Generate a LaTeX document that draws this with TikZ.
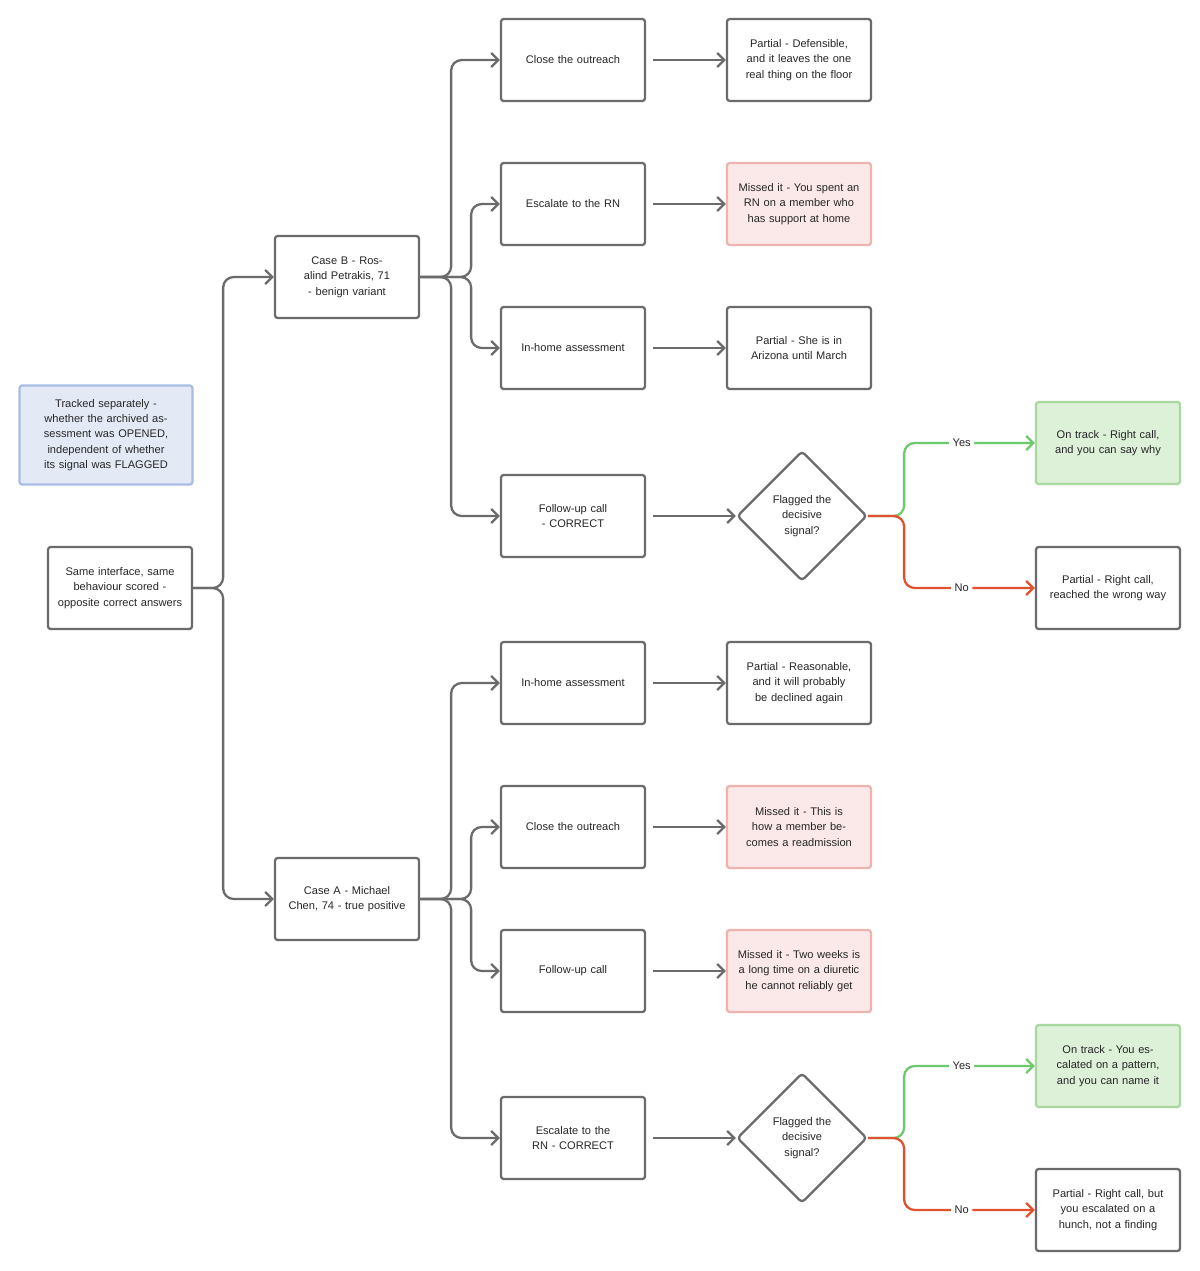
\documentclass[tikz,border=0pt]{standalone}
\usepackage{fontspec}
\setmainfont{Liberation Sans}
\usetikzlibrary{arrows.meta,shapes.geometric}
\definecolor{edgegray}{HTML}{6B6B6B}
\definecolor{notefill}{HTML}{E3EAF6}
\definecolor{noteline}{HTML}{A9BCE3}
\definecolor{missfill}{HTML}{FBE9E9}
\definecolor{missline}{HTML}{EDB3AE}
\definecolor{okfill}{HTML}{DDF0D8}
\definecolor{okline}{HTML}{A8D7A0}
\definecolor{yesgreen}{HTML}{6CC96C}
\definecolor{nored}{HTML}{E0512F}
\begin{document}
\begin{tikzpicture}[x=0.02cm,y=-0.02cm]

\tikzset{box/.style = {draw=edgegray, line width=1.3pt, rounded corners=1.5pt, minimum width=2.88cm, minimum height=1.64cm, align=center, text width=2.5cm, font=\fontsize{6.3}{8.7}\selectfont, text=black!85}}
\tikzset{miss/.style = {box, draw=missline, fill=missfill}}
\tikzset{ok/.style = {box, draw=okline, fill=okfill}}
\tikzset{dia/.style = {draw=edgegray, line width=1.3pt, diamond, rounded corners=2pt, minimum width=2.6cm, minimum height=2.6cm, inner sep=0pt, align=center, font=\fontsize{6.3}{8.7}\selectfont, text=black!85}}
\tikzset{link/.style = {draw=edgegray, line width=1.3pt, rounded corners=6pt, -{Straight Barb[length=4pt,width=8pt]}}}
\tikzset{tag/.style = {fill=white, inner sep=2pt, font=\fontsize{6.3}{8}\selectfont, text=black!85}}

\useasboundingbox (0,0) rectangle (1200,1271);

% left side
\node[box, draw=noteline, fill=notefill, minimum width=3.46cm, minimum height=1.98cm, text width=3.1cm] (note) at (106,435) {Tracked separately - whether the archived assessment was OPENED, independent of whether its signal was FLAGGED};
\node[box] (root) at (120,588) {Same interface, same behaviour scored - opposite correct answers};
\node[box] (caseB) at (347,277) {Case B - Rosalind Petrakis, 71 - benign variant};
\node[box] (caseA) at (347,899) {Case A - Michael Chen, 74 - true positive};

% case B
\node[box] (b1) at (573,60) {Close the outreach};
\node[box] (b2) at (573,204) {Escalate to the RN};
\node[box] (b3) at (573,348) {In-home assessment};
\node[box] (b4) at (573,516) {Follow-up call - CORRECT};
\node[box] (rb1) at (799,60) {Partial - Defensible, and it leaves the one real thing on the floor};
\node[miss] (rb2) at (799,204) {Missed it - You spent an RN on a member who has support at home};
\node[box] (rb3) at (799,348) {Partial - She is in Arizona until March};
\node[dia] (qb) at (802,516) {Flagged the\\decisive\\signal?};
\node[ok] (yb) at (1108,443) {On track - Right call, and you can say why};
\node[box] (nb) at (1108,588) {Partial - Right call, reached the wrong way};

% case A
\node[box] (a1) at (573,683) {In-home assessment};
\node[box] (a2) at (573,827) {Close the outreach};
\node[box] (a3) at (573,971) {Follow-up call};
\node[box] (a4) at (573,1138) {Escalate to the RN - CORRECT};
\node[box] (ra1) at (799,683) {Partial - Reasonable, and it will probably be declined again};
\node[miss] (ra2) at (799,827) {Missed it - This is how a member becomes a readmission};
\node[miss] (ra3) at (799,971) {Missed it - Two weeks is a long time on a diuretic he cannot reliably get};
\node[dia] (qa) at (802,1138) {Flagged the\\decisive\\signal?};
\node[ok] (ya) at (1108,1066) {On track - You escalated on a pattern, and you can name it};
\node[box] (na) at (1108,1210) {Partial - Right call, but you escalated on a hunch, not a finding};

% connectors
\draw[link] (root.east) -- ++(30,0) |- (caseB.west);
\draw[link] (root.east) -- ++(30,0) |- (caseA.west);

\foreach \s/\t/\d in {caseB/b1/31, caseB/b2/51, caseB/b3/51, caseB/b4/31, caseA/a1/31, caseA/a2/51, caseA/a3/51, caseA/a4/31}
  \draw[link] (\s.east) -- ++(\d,0) |- (\t.west);

\foreach \s/\t in {b1/rb1, b2/rb2, b3/rb3, b4/qb, a1/ra1, a2/ra2, a3/ra3, a4/qa}
  \draw[link] ([xshift=4pt]\s.east) -- (\t.west);

\draw[link, draw=yesgreen] (qb.east) -- ++(36,0) |- node[tag, pos=0.72] {Yes} (yb.west);
\draw[link, draw=nored] (qb.east) -- ++(36,0) |- node[tag, pos=0.72] {No} (nb.west);
\draw[link, draw=yesgreen] (qa.east) -- ++(36,0) |- node[tag, pos=0.72] {Yes} (ya.west);
\draw[link, draw=nored] (qa.east) -- ++(36,0) |- node[tag, pos=0.72] {No} (na.west);

\end{tikzpicture}
\end{document}
